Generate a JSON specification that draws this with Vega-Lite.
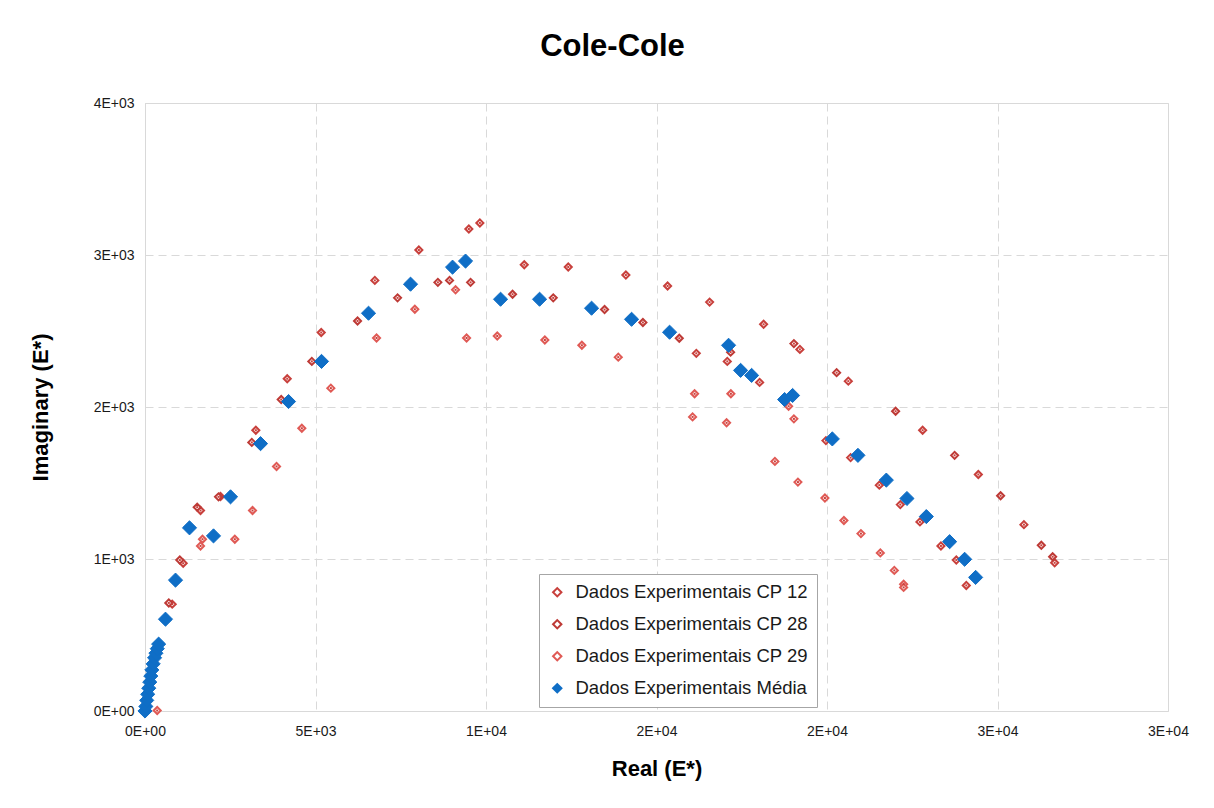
{
  "$schema": "https://vega.github.io/schema/vega-lite/v6.json",
  "autosize": {"type": "none"},
  "padding": {"left": 145, "top": 103, "right": 46, "bottom": 97},
  "width": 1023,
  "height": 608,
  "background": "white",
  "title": {
    "text": "Cole-Cole",
    "fontSize": 31,
    "fontWeight": "bold",
    "font": "Liberation Sans",
    "color": "#000000",
    "anchor": "middle",
    "dx": -44,
    "baseline": "alphabetic",
    "offset": 9
  },
  "data": {
    "values": [
      {"serie": "Dados Experimentais CP 12", "real": 798, "imag": 703},
      {"serie": "Dados Experimentais CP 12", "real": 1120, "imag": 972},
      {"serie": "Dados Experimentais CP 12", "real": 1628, "imag": 1319},
      {"serie": "Dados Experimentais CP 12", "real": 2214, "imag": 1411},
      {"serie": "Dados Experimentais CP 12", "real": 3250, "imag": 1847},
      {"serie": "Dados Experimentais CP 12", "real": 4171, "imag": 2186},
      {"serie": "Dados Experimentais CP 12", "real": 5168, "imag": 2490},
      {"serie": "Dados Experimentais CP 12", "real": 6740, "imag": 2833},
      {"serie": "Dados Experimentais CP 12", "real": 8031, "imag": 3033},
      {"serie": "Dados Experimentais CP 12", "real": 9497, "imag": 3171},
      {"serie": "Dados Experimentais CP 12", "real": 9820, "imag": 3211},
      {"serie": "Dados Experimentais CP 12", "real": 11122, "imag": 2936},
      {"serie": "Dados Experimentais CP 12", "real": 12412, "imag": 2921},
      {"serie": "Dados Experimentais CP 12", "real": 14102, "imag": 2868},
      {"serie": "Dados Experimentais CP 12", "real": 15325, "imag": 2796},
      {"serie": "Dados Experimentais CP 12", "real": 16557, "imag": 2690},
      {"serie": "Dados Experimentais CP 12", "real": 18141, "imag": 2544},
      {"serie": "Dados Experimentais CP 12", "real": 19205, "imag": 2379},
      {"serie": "Dados Experimentais CP 12", "real": 20625, "imag": 2170},
      {"serie": "Dados Experimentais CP 12", "real": 22804, "imag": 1847},
      {"serie": "Dados Experimentais CP 12", "real": 24438, "imag": 1556},
      {"serie": "Dados Experimentais CP 12", "real": 25775, "imag": 1226},
      {"serie": "Dados Experimentais CP 12", "real": 26676, "imag": 975},
      {"serie": "Dados Experimentais CP 12", "real": 16167, "imag": 2353},
      {"serie": "Dados Experimentais CP 12", "real": 17076, "imag": 2300},
      {"serie": "Dados Experimentais CP 12", "real": 18024, "imag": 2162},
      {"serie": "Dados Experimentais CP 12", "real": 19968, "imag": 1779},
      {"serie": "Dados Experimentais CP 12", "real": 20692, "imag": 1667},
      {"serie": "Dados Experimentais CP 12", "real": 21534, "imag": 1486},
      {"serie": "Dados Experimentais CP 12", "real": 22150, "imag": 1358},
      {"serie": "Dados Experimentais CP 12", "real": 22725, "imag": 1244},
      {"serie": "Dados Experimentais CP 12", "real": 23341, "imag": 1086},
      {"serie": "Dados Experimentais CP 12", "real": 23792, "imag": 993},
      {"serie": "Dados Experimentais CP 12", "real": 24085, "imag": 826},
      {"serie": "Dados Experimentais CP 28", "real": 698, "imag": 711},
      {"serie": "Dados Experimentais CP 28", "real": 1021, "imag": 993},
      {"serie": "Dados Experimentais CP 28", "real": 1531, "imag": 1341},
      {"serie": "Dados Experimentais CP 28", "real": 2156, "imag": 1409},
      {"serie": "Dados Experimentais CP 28", "real": 3132, "imag": 1767},
      {"serie": "Dados Experimentais CP 28", "real": 3995, "imag": 2049},
      {"serie": "Dados Experimentais CP 28", "real": 4892, "imag": 2300},
      {"serie": "Dados Experimentais CP 28", "real": 6233, "imag": 2566},
      {"serie": "Dados Experimentais CP 28", "real": 7406, "imag": 2718},
      {"serie": "Dados Experimentais CP 28", "real": 8588, "imag": 2820},
      {"serie": "Dados Experimentais CP 28", "real": 8931, "imag": 2833},
      {"serie": "Dados Experimentais CP 28", "real": 9547, "imag": 2820},
      {"serie": "Dados Experimentais CP 28", "real": 10779, "imag": 2742},
      {"serie": "Dados Experimentais CP 28", "real": 11972, "imag": 2718},
      {"serie": "Dados Experimentais CP 28", "real": 13477, "imag": 2641},
      {"serie": "Dados Experimentais CP 28", "real": 14601, "imag": 2556},
      {"serie": "Dados Experimentais CP 28", "real": 15668, "imag": 2452},
      {"serie": "Dados Experimentais CP 28", "real": 17173, "imag": 2361},
      {"serie": "Dados Experimentais CP 28", "real": 19029, "imag": 2417},
      {"serie": "Dados Experimentais CP 28", "real": 20282, "imag": 2226},
      {"serie": "Dados Experimentais CP 28", "real": 22012, "imag": 1972},
      {"serie": "Dados Experimentais CP 28", "real": 23742, "imag": 1682},
      {"serie": "Dados Experimentais CP 28", "real": 25091, "imag": 1416},
      {"serie": "Dados Experimentais CP 28", "real": 26285, "imag": 1090},
      {"serie": "Dados Experimentais CP 28", "real": 26617, "imag": 1015},
      {"serie": "Dados Experimentais CP 29", "real": 358, "imag": 3},
      {"serie": "Dados Experimentais CP 29", "real": 1628, "imag": 1086},
      {"serie": "Dados Experimentais CP 29", "real": 1686, "imag": 1130},
      {"serie": "Dados Experimentais CP 29", "real": 2634, "imag": 1130},
      {"serie": "Dados Experimentais CP 29", "real": 3153, "imag": 1319},
      {"serie": "Dados Experimentais CP 29", "real": 3857, "imag": 1609},
      {"serie": "Dados Experimentais CP 29", "real": 4599, "imag": 1860},
      {"serie": "Dados Experimentais CP 29", "real": 5450, "imag": 2124},
      {"serie": "Dados Experimentais CP 29", "real": 6790, "imag": 2454},
      {"serie": "Dados Experimentais CP 29", "real": 7913, "imag": 2643},
      {"serie": "Dados Experimentais CP 29", "real": 9107, "imag": 2771},
      {"serie": "Dados Experimentais CP 29", "real": 9430, "imag": 2454},
      {"serie": "Dados Experimentais CP 29", "real": 10330, "imag": 2467},
      {"serie": "Dados Experimentais CP 29", "real": 11726, "imag": 2441},
      {"serie": "Dados Experimentais CP 29", "real": 12811, "imag": 2406},
      {"serie": "Dados Experimentais CP 29", "real": 13879, "imag": 2328},
      {"serie": "Dados Experimentais CP 29", "real": 16117, "imag": 2087},
      {"serie": "Dados Experimentais CP 29", "real": 16058, "imag": 1935},
      {"serie": "Dados Experimentais CP 29", "real": 17181, "imag": 2087},
      {"serie": "Dados Experimentais CP 29", "real": 17055, "imag": 1896},
      {"serie": "Dados Experimentais CP 29", "real": 18874, "imag": 2005},
      {"serie": "Dados Experimentais CP 29", "real": 19029, "imag": 1922},
      {"serie": "Dados Experimentais CP 29", "real": 18472, "imag": 1642},
      {"serie": "Dados Experimentais CP 29", "real": 19147, "imag": 1506},
      {"serie": "Dados Experimentais CP 29", "real": 19939, "imag": 1401},
      {"serie": "Dados Experimentais CP 29", "real": 20496, "imag": 1253},
      {"serie": "Dados Experimentais CP 29", "real": 20995, "imag": 1167},
      {"serie": "Dados Experimentais CP 29", "real": 21564, "imag": 1040},
      {"serie": "Dados Experimentais CP 29", "real": 21974, "imag": 925},
      {"serie": "Dados Experimentais CP 29", "real": 22247, "imag": 834},
      {"serie": "Dados Experimentais CP 29", "real": 22247, "imag": 813},
      {"serie": "Dados Experimentais Média", "real": 0, "imag": 0},
      {"serie": "Dados Experimentais Média", "real": 25, "imag": 30},
      {"serie": "Dados Experimentais Média", "real": 50, "imag": 70},
      {"serie": "Dados Experimentais Média", "real": 80, "imag": 110},
      {"serie": "Dados Experimentais Média", "real": 110, "imag": 150},
      {"serie": "Dados Experimentais Média", "real": 140, "imag": 190},
      {"serie": "Dados Experimentais Média", "real": 170, "imag": 230},
      {"serie": "Dados Experimentais Média", "real": 200, "imag": 270},
      {"serie": "Dados Experimentais Média", "real": 240, "imag": 310},
      {"serie": "Dados Experimentais Média", "real": 280, "imag": 350},
      {"serie": "Dados Experimentais Média", "real": 320, "imag": 380},
      {"serie": "Dados Experimentais Média", "real": 360, "imag": 410},
      {"serie": "Dados Experimentais Média", "real": 400, "imag": 440},
      {"serie": "Dados Experimentais Média", "real": 601, "imag": 604},
      {"serie": "Dados Experimentais Média", "real": 895, "imag": 861},
      {"serie": "Dados Experimentais Média", "real": 1305, "imag": 1205},
      {"serie": "Dados Experimentais Média", "real": 2009, "imag": 1152},
      {"serie": "Dados Experimentais Média", "real": 2508, "imag": 1409},
      {"serie": "Dados Experimentais Média", "real": 3388, "imag": 1759},
      {"serie": "Dados Experimentais Média", "real": 4209, "imag": 2036},
      {"serie": "Dados Experimentais Média", "real": 5177, "imag": 2300},
      {"serie": "Dados Experimentais Média", "real": 6555, "imag": 2617},
      {"serie": "Dados Experimentais Média", "real": 7787, "imag": 2808},
      {"serie": "Dados Experimentais Média", "real": 9019, "imag": 2920},
      {"serie": "Dados Experimentais Média", "real": 9400, "imag": 2960},
      {"serie": "Dados Experimentais Média", "real": 10427, "imag": 2709},
      {"serie": "Dados Experimentais Média", "real": 11571, "imag": 2709},
      {"serie": "Dados Experimentais Média", "real": 13096, "imag": 2650},
      {"serie": "Dados Experimentais Média", "real": 14269, "imag": 2577},
      {"serie": "Dados Experimentais Média", "real": 15384, "imag": 2492},
      {"serie": "Dados Experimentais Média", "real": 17114, "imag": 2406},
      {"serie": "Dados Experimentais Média", "real": 17466, "imag": 2241},
      {"serie": "Dados Experimentais Média", "real": 17789, "imag": 2208},
      {"serie": "Dados Experimentais Média", "real": 18757, "imag": 2049},
      {"serie": "Dados Experimentais Média", "real": 18991, "imag": 2076},
      {"serie": "Dados Experimentais Média", "real": 20156, "imag": 1790},
      {"serie": "Dados Experimentais Média", "real": 20907, "imag": 1682},
      {"serie": "Dados Experimentais Média", "real": 21740, "imag": 1519},
      {"serie": "Dados Experimentais Média", "real": 22344, "imag": 1398},
      {"serie": "Dados Experimentais Média", "real": 22913, "imag": 1279},
      {"serie": "Dados Experimentais Média", "real": 23596, "imag": 1114},
      {"serie": "Dados Experimentais Média", "real": 24036, "imag": 998},
      {"serie": "Dados Experimentais Média", "real": 24359, "imag": 879}
    ]
  },
  "encoding": {
    "x": {
      "field": "real",
      "type": "quantitative",
      "scale": {"domain": [0, 30000], "nice": false, "zero": true},
      "axis": {
        "title": "Real (E*)",
        "values": [0, 5000, 10000, 15000, 20000, 25000, 30000],
        "labelExpr": "replace(format(datum.value, '.0e'), 'e+', 'E+0')",
        "labelPadding": 13,
        "labelFlush": false,
        "titleY": 57,
        "titleBaseline": "middle"
      }
    },
    "y": {
      "field": "imag",
      "type": "quantitative",
      "scale": {"domain": [0, 4000], "nice": false},
      "axis": {
        "title": "Imaginary (E*)",
        "values": [0, 1000, 2000, 3000, 4000],
        "labelExpr": "replace(format(datum.value, '.0e'), 'e+', 'E+0')",
        "labelPadding": 11,
        "labelFlush": false,
        "titleX": -105,
        "titleY": 304,
        "titleBaseline": "middle"
      }
    }
  },
  "layer": [
    {
      "transform": [{"filter": "datum.serie !== 'Dados Experimentais Média'"}],
      "mark": {"type": "point", "shape": "diamond", "filled": false, "strokeWidth": 2, "size": 50, "opacity": 1},
      "encoding": {
        "stroke": {
          "field": "serie",
          "type": "nominal",
          "scale": {
            "domain": ["Dados Experimentais CP 12", "Dados Experimentais CP 28", "Dados Experimentais CP 29", "Dados Experimentais Média"],
            "range": ["#C8403C", "#BE3A36", "#E05A55", "#0F6EC6"]
          },
          "legend": {"title": null}
        },
        "fill": {
          "field": "serie",
          "type": "nominal",
          "scale": {
            "domain": ["Dados Experimentais CP 12", "Dados Experimentais CP 28", "Dados Experimentais CP 29", "Dados Experimentais Média"],
            "range": ["#ffffff", "#ffffff", "#ffffff", "#0F6EC6"]
          },
          "legend": {"title": null}
        }
      }
    },
    {
      "transform": [{"filter": "datum.serie !== 'Dados Experimentais Média'"}],
      "mark": {"type": "point", "shape": "square", "filled": true, "size": 4, "opacity": 1, "strokeWidth": 0},
      "encoding": {"fill": {"value": "#C8403C"}}
    },
    {
      "transform": [{"filter": "datum.serie === 'Dados Experimentais Média'"}],
      "mark": {"type": "point", "shape": "diamond", "filled": false, "strokeWidth": 1, "size": 200, "opacity": 1},
      "encoding": {
        "stroke": {"field": "serie", "type": "nominal", "legend": {"title": null}},
        "fill": {"field": "serie", "type": "nominal", "legend": {"title": null}}
      }
    }
  ],
  "config": {
    "font": "Liberation Sans",
    "view": {"stroke": "#d9d9d9", "strokeWidth": 1},
    "axis": {
      "grid": true,
      "gridColor": "#d9d9d9",
      "gridDash": [8, 5],
      "gridWidth": 1,
      "ticks": false,
      "domainColor": "#d9d9d9",
      "domainWidth": 1,
      "labelFont": "Liberation Sans",
      "labelFontSize": 14,
      "labelColor": "#1a1a1a",
      "titleFont": "Liberation Sans",
      "titleFontSize": 22,
      "titleFontWeight": "bold",
      "titleColor": "#000000"
    },
    "legend": {
      "orient": "none",
      "legendX": 394,
      "legendY": 471,
      "direction": "vertical",
      "symbolType": "diamond",
      "symbolSize": 70,
      "labelFont": "Liberation Sans",
      "labelFontSize": 18.5,
      "labelColor": "#1a1a1a",
      "labelOffset": 9,
      "rowPadding": 13,
      "padding": 9,
      "strokeColor": "#a6a6a6",
      "fillColor": "#ffffff",
      "symbolStrokeWidth": 2,
      "labelLimit": 400
    }
  }
}
